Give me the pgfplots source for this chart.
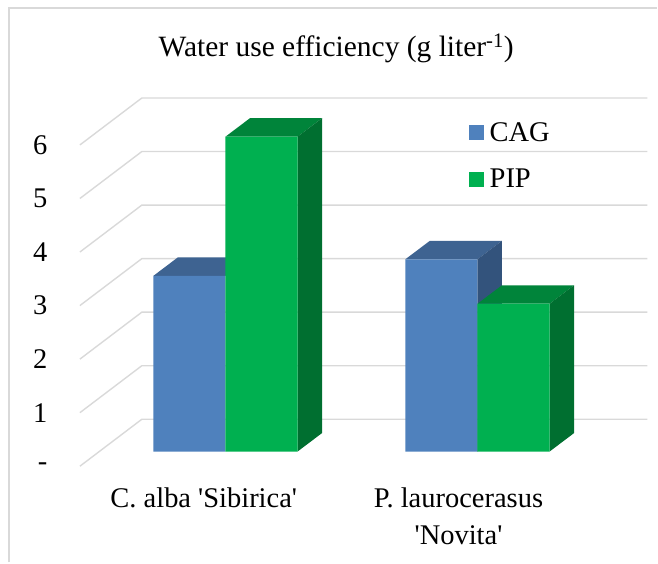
\documentclass[border=0pt]{standalone}
\usepackage{fontspec}
\setmainfont{Liberation Serif}
\usepackage{pgfplots}
\pgfplotsset{compat=1.18}
\definecolor{gridc}{HTML}{D9D9D9}
\definecolor{bfront}{HTML}{4F81BD}
\definecolor{btop}{HTML}{3E6391}
\definecolor{bside}{HTML}{33537C}
\definecolor{gfront}{HTML}{00B050}
\definecolor{gtop}{HTML}{00843A}
\definecolor{gside}{HTML}{006F30}
\pgfplotsset{
  gl/.style={draw=gridc,line width=1.4pt,forget plot},
  face/.style={fill=#1,draw=none,forget plot},
  sq/.style={legend image code/.code={\fill[##1] (0pt,-7.5pt) rectangle (15pt,7.5pt);\path (21pt,0pt);}},
}
\begin{document}
\begin{tikzpicture}
\begin{axis}[
  x=1pt,y=53.6pt,
  xmin=80,xmax=648,ymin=-0.2743,ymax=6.6026,
  clip=false,
  axis line style={draw=none},
  major tick length=0pt,
  tick style={draw=none},
  ytick={0,1,2,3,4,5,6},
  yticklabels={-,1,2,3,4,5,6},
  y tick label style={anchor=east,xshift=-29pt,yshift=-14.7pt,font=\fontsize{28.5}{34}\selectfont},
  xtick={204,459},
  xticklabels={{C. alba \textquotesingle Sibirica\textquotesingle},{P. laurocerasus\\\textquotesingle Novita\textquotesingle}},
  x tick label style={anchor=north,align=center,yshift=-18pt,font=\fontsize{28.5}{37}\selectfont},
  title={Water use efficiency (g liter\textsuperscript{-1})},
  title style={at={(0.4516,1.096)},anchor=base,font=\fontsize{29.5}{34}\selectfont},
  legend style={at={(axis cs:469,6.2)},anchor=north west,draw=none,fill=none,inner sep=0pt,
    yshift=-3pt,row sep=26pt,font=\fontsize{28.5}{34}\selectfont,
    nodes={inner sep=0pt,anchor=west}},
  legend cell align=left,
  /pgf/number format/assume math mode=true,
]
% gridlines: floor diagonal, then back wall
\addplot[gl] coordinates {(80,-0.2743)(142,0.6026)(648,0.6026)};
\addplot[gl] coordinates {(80,0.7257)(142,1.6026)(648,1.6026)};
\addplot[gl] coordinates {(80,1.7257)(142,2.6026)(648,2.6026)};
\addplot[gl] coordinates {(80,2.7257)(142,3.6026)(648,3.6026)};
\addplot[gl] coordinates {(80,3.7257)(142,4.6026)(648,4.6026)};
\addplot[gl] coordinates {(80,4.7257)(142,5.6026)(648,5.6026)};
\addplot[gl] coordinates {(80,5.7257)(142,6.6026)(648,6.6026)};
% CAG: depth faces
\addplot[face=btop] coordinates {(153.5,3.28)(225.7,3.28)(250.2,3.625)(178,3.625)(153.5,3.28)};
\addplot[face=btop] coordinates {(405.8,3.59)(478,3.59)(502.5,3.935)(430.3,3.935)(405.8,3.59)};
\addplot[face=bside] coordinates {(478,0)(502.5,0.345)(502.5,3.935)(478,3.59)(478,0)};
% CAG: front faces
\addplot[ybar,bar width=72.2pt,bar shift=-36.1pt,fill=bfront,draw=none,sq] coordinates {(225.7,3.28)(478,3.59)};
% PIP: depth faces
\addplot[face=gtop] coordinates {(225.7,5.88)(297.9,5.88)(322.4,6.225)(250.2,6.225)(225.7,5.88)};
\addplot[face=gside] coordinates {(297.9,0)(322.4,0.345)(322.4,6.225)(297.9,5.88)(297.9,0)};
\addplot[face=gtop] coordinates {(478,2.76)(550.2,2.76)(574.7,3.105)(502.5,3.105)(478,2.76)};
\addplot[face=gside] coordinates {(550.2,0)(574.7,0.345)(574.7,3.105)(550.2,2.76)(550.2,0)};
% PIP: front faces
\addplot[ybar,bar width=72.2pt,bar shift=36.1pt,fill=gfront,draw=none,sq] coordinates {(225.7,5.88)(478,2.76)};
\legend{CAG,PIP}
\end{axis}
% chart frame (left and top edges) and page extent
\draw[gridc,line width=1.4pt] (-71pt,-96.3pt) -- (-71pt,458.7pt) -- (578pt,458.7pt);
\path[use as bounding box] (-80pt,-96.3pt) rectangle (578pt,466.7pt);
\end{tikzpicture}
\end{document}
